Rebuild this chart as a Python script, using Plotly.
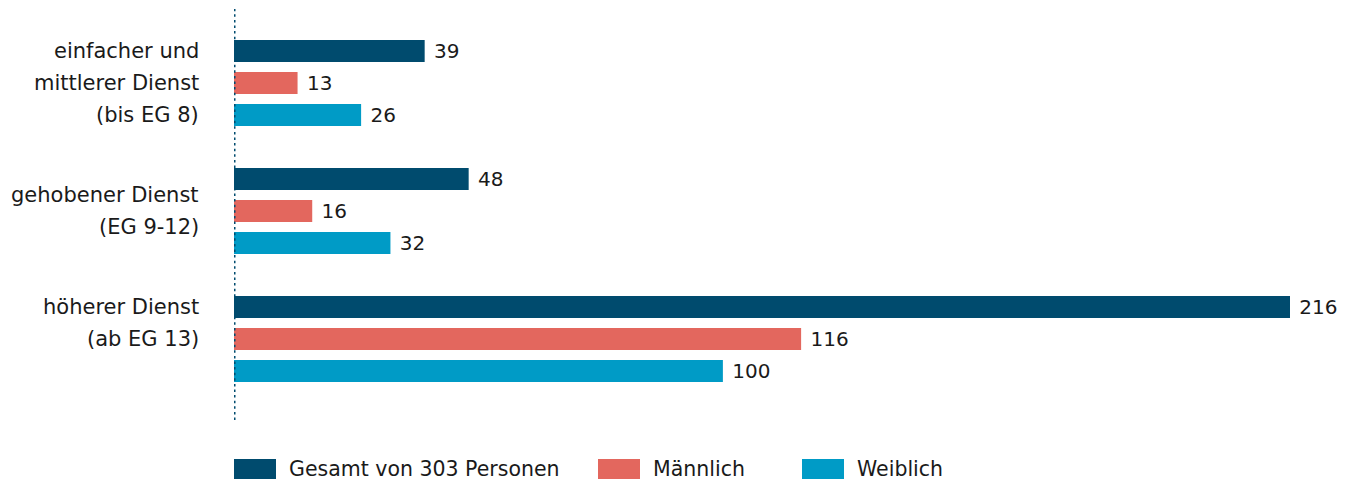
import plotly.graph_objects as go

categories = ["einfacher und<br>mittlerer Dienst<br>(bis EG 8)",
              "gehobener Dienst<br>(EG 9-12)",
              "höherer Dienst<br>(ab EG 13)"]
series_names = ["Gesamt von 303 Personen", "Männlich", "Weiblich"]
gesamt = [39, 48, 216]
maennlich = [13, 16, 116]
weiblich = [26, 32, 100]
colors = ["#004b6e", "#e3675e", "#009bc6"]

W, H = 1355, 483
OFF = 8  # page body margin
# plot area in screenshot pixels: x 234..1334, y 8..420
L, T = 234 - OFF, 8 - OFF
PW, PH = 1100, 412
R = W - L - PW
B = H - T - PH
FONT = "DejaVu Sans"
TXT = "#1a1a1a"

def px_x(px):
    return (px - OFF - L) / PW

def px_y(py):
    return (T + PH - (py - OFF)) / PH

fig = go.Figure()
for name, vals, col in zip(series_names, [gesamt, maennlich, weiblich], colors):
    fig.add_trace(go.Bar(
        y=list(range(len(categories))), x=vals, orientation="h", name=name,
        marker=dict(color=col, line=dict(width=0)),
        text=[" " + str(v) for v in vals], textposition="outside",
        constraintext="none",
        textfont=dict(family=FONT, size=20, color=TXT),
        cliponaxis=False, showlegend=False,
    ))

# category labels, one annotation per line
cat_shift = [0, 0, 16]  # px upward shift of label block centre
for i, (c, s) in enumerate(zip(categories, cat_shift)):
    lines = c.split("<br>")
    n = len(lines)
    for j, ln in enumerate(lines):
        fig.add_annotation(x=0, y=i, xref="x", yref="y", text=ln, showarrow=False,
                           xanchor="right", yanchor="middle", xshift=-33,
                           yshift=((n - 1) / 2 - j) * 32 + s,
                           font=dict(family=FONT, size=21, color=TXT))

# dotted axis line
fig.add_shape(type="line", xref="x", yref="paper", x0=0, x1=0, y0=px_y(420), y1=px_y(9),
              line=dict(color="#004b6e", width=3, dash="2.5px,3.1px"))

# custom legend
leg_x = [234, 598, 802]
for name, col, lx in zip(series_names, colors, leg_x):
    fig.add_shape(type="rect", xref="paper", yref="paper",
                  x0=px_x(lx), x1=px_x(lx + 42), y0=px_y(479), y1=px_y(459),
                  fillcolor=col, line=dict(width=0))
    fig.add_annotation(xref="paper", yref="paper", x=px_x(lx + 53), y=px_y(469),
                       text=name, showarrow=False, xanchor="left", yanchor="middle",
                       font=dict(family=FONT, size=20.5, color=TXT))

fig.update_layout(
    width=W, height=H, margin=dict(l=L, r=R, t=T, b=B, pad=0),
    paper_bgcolor="white", plot_bgcolor="white",
    barmode="group", bargap=0.25, bargroupgap=0.3125,
    xaxis=dict(range=[0, 225], visible=False),
    yaxis=dict(range=[(420 - 339) / 128 + 2, (8 - 83) / 128], visible=False),
    showlegend=False,
)
fig.write_html("out.html")
